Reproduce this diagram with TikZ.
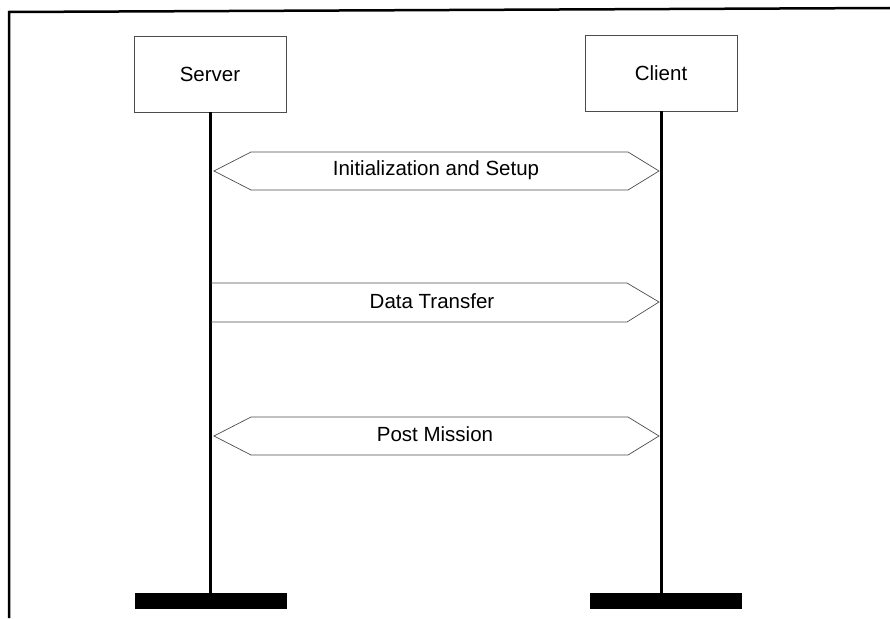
\documentclass[tikz,border=0pt]{standalone}
\usepackage{fontspec}
\setmainfont{Liberation Sans}
\begin{document}
\begin{tikzpicture}[x=1pt,y=-1pt,
  lbl/.style={font=\fontsize{20.5}{24}\selectfont, inner sep=0pt},
  actor/.style={draw=black!70, line width=0.8pt, fill=white, minimum width=152pt, minimum height=76pt, inner sep=0pt, font=\fontsize{20.5}{24}\selectfont},
  endbar/.style={fill=black, minimum width=152pt, minimum height=16pt, inner sep=0pt},
  life/.style={line width=3pt},
  msg/.style={draw=black!70, line width=0.7pt, line join=miter}]
\useasboundingbox (0,0) rectangle (890,618);
% outer frame (top and left only)
\draw[line width=2.5pt] (9,618) -- (9,12) -- (890,8);
% actors
\node[actor] (srv) at (210,74) {Server};
\node[actor] (cli) at (661,73) {Client};
\node[endbar] (sbar) at (211,601) {};
\node[endbar] (cbar) at (666,601) {};
\draw[life] (srv.south) -- (srv.south |- sbar.north);
\draw[life] (cli.south) -- (cli.south |- cbar.north);
% message 1: two-headed
\draw[msg] (214,171) -- (251,152) -- (628,152) -- (659,171) -- (628,190) -- (251,190) -- cycle;
\node[lbl] (m1) at (436,170) {Initialization and Setup};
% message 2: one-headed
\draw[msg] (211,283) -- (627,283) -- (659,302) -- (627,322) -- (211,322);
\node[lbl] (m2) at (432,301) {Data Transfer};
% message 3: two-headed
\draw[msg] (214,436) -- (251,417) -- (628,417) -- (659,436) -- (628,455) -- (251,455) -- cycle;
\node[lbl] (m3) at (435,434) {Post Mission};
\end{tikzpicture}
\end{document}
